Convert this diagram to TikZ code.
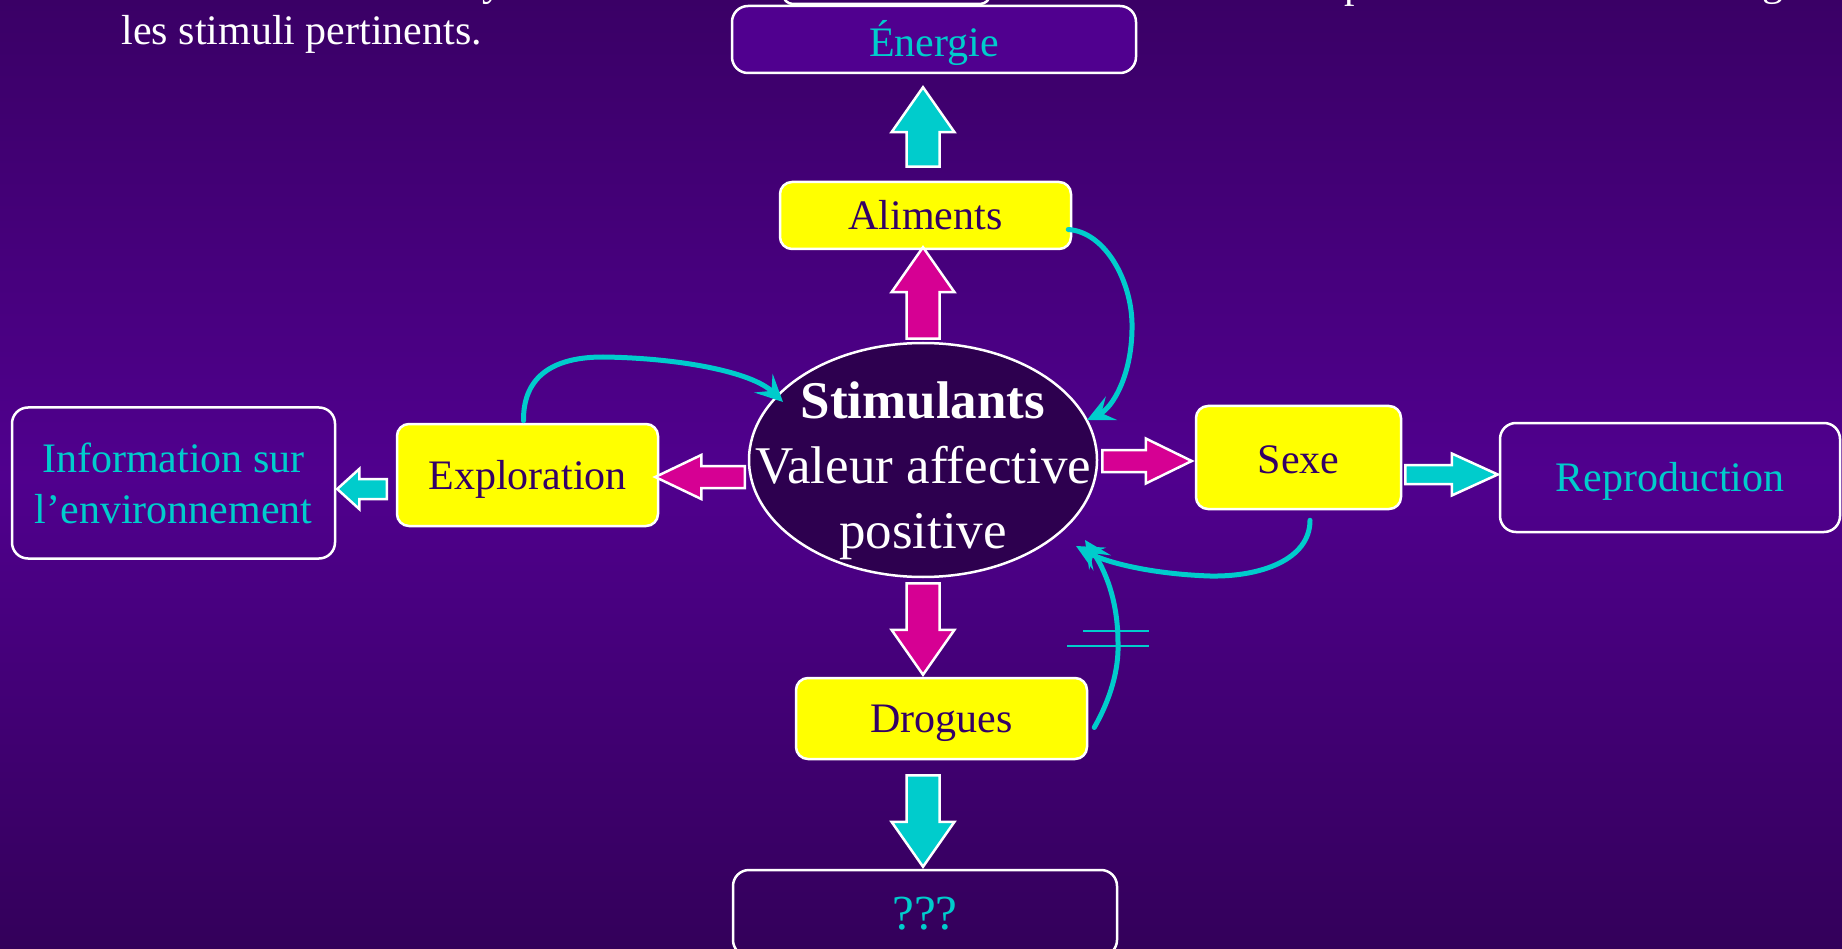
\documentclass[tikz,border=0pt]{standalone}
\usepackage{fontspec}
\setmainfont{Liberation Serif}
\usetikzlibrary{calc,shapes.geometric,arrows.meta}
\definecolor{bgtop}{HTML}{3A0066}
\definecolor{bgmid}{HTML}{50008E}
\definecolor{bgbot}{HTML}{33005A}
\definecolor{boxfill}{HTML}{50008F}
\definecolor{ellfill}{HTML}{2D004F}
\definecolor{cyanc}{HTML}{00CCCC}
\definecolor{magc}{HTML}{D60093}
\definecolor{yel}{HTML}{FFFF00}
\definecolor{darktxt}{HTML}{330066}
\tikzset{
  ybox/.style={draw=white, line width=2.5pt, fill=yel, rounded corners=12pt, text=darktxt,
    font=\fontsize{42}{50}\selectfont, inner sep=0pt, text height=28pt, text depth=0pt},
  obox/.style={draw=white, line width=2.5pt, rounded corners=16pt, text=cyanc,
    font=\fontsize{42}{51}\selectfont, inner sep=0pt, align=center},
  oboxone/.style={obox, text height=28pt, text depth=0pt},
  blockarr/.style={draw=white, line width=2.5pt, line join=miter},
  fbcurve/.style={draw=cyanc, line width=5pt, line cap=round,
    -{Stealth[length=27pt,width=26pt,inset=11pt]}},
  crossline/.style={draw=cyanc, line width=2pt},
  topfrag/.style={anchor=base, text=white, font=\fontsize{42}{50}\selectfont, inner sep=0pt},
}
\newcommand\blockarrow[6]{%
  \path[blockarr, fill=#1] let \p1=(#2), \p2=(#3), \n1={atan2(\y2-\y1,\x2-\x1)} in
  ($(\p1)+(\n1+90:#4pt)$) -- ($(\p2)+(\n1+180:#6pt)+(\n1+90:#4pt)$)
  -- ($(\p2)+(\n1+180:#6pt)+(\n1+90:#5pt)$) -- (\p2)
  -- ($(\p2)+(\n1+180:#6pt)+(\n1-90:#5pt)$) -- ($(\p2)+(\n1+180:#6pt)+(\n1-90:#4pt)$)
  -- ($(\p1)+(\n1-90:#4pt)$) -- cycle;}
\begin{document}
\begin{tikzpicture}[x=1pt,y=-1pt]
\useasboundingbox (0,0) rectangle (1842,949);
\shade[top color=bgtop, bottom color=bgmid] (0,0) rectangle (1842,476);
\shade[top color=bgmid, bottom color=bgbot] (0,475) rectangle (1842,949);

% fragments of the line and box cut off at the top edge
\node[topfrag] (fy) at (493,-4) {y};
\node[topfrag] (fp) at (1355,-2) {p};
\node[topfrag] (fg) at (1773,-4) {g};
\draw[white, line width=2.5pt, rounded corners=10pt] (783,-60) rectangle (990,4);

\node[anchor=base west, text=white, font=\fontsize{42}{50}\selectfont] (note) at (118,45) {les stimuli pertinents.};

\node[oboxone, fill=boxfill, minimum width=404pt, minimum height=67pt, text height=34pt] (ene) at (934,39.5) {Énergie};
\node[ybox, minimum width=291pt, minimum height=67pt] (ali) at (925.5,215.5) {Aliments};
\node[ellipse, draw=white, line width=2.5pt, fill=ellfill, minimum width=348pt, minimum height=234pt,
  inner sep=0pt] (ell) at (923,460) {};
\node[text=white, align=center, font=\fontsize{53}{65}\selectfont, inner sep=0pt] (ellt) at (923,471)
  {\textbf{Stimulants}\\Valeur affective\\positive};
\node[ybox, minimum width=261pt, minimum height=102pt] (exp) at (527.5,475) {Exploration};
\node[obox, minimum width=323pt, minimum height=151pt] (info) at (173.5,483) {Information sur\\l’environnement};
\node[ybox, minimum width=205pt, minimum height=103pt, text height=31pt] (sexe) at (1298.5,457.5) {Sexe};
\node[oboxone, minimum width=340pt, minimum height=109pt] (rep) at (1670,477.5) {Reproduction};
\node[ybox, minimum width=291pt, minimum height=81pt] (drog) at (941.5,718.5) {Drogues};
\node[oboxone, minimum width=384pt, minimum height=86pt, font=\fontsize{49}{55}\selectfont, text height=33pt] (qqq) at (925,913) {???};

\blockarrow{cyanc}{$(ell.north |- ali.north)+(0,-14)$}{$(ell.north |- ene.south)+(0,13)$}{16.5}{31.5}{45}
\blockarrow{magc}{$(ell.north)+(0,-3)$}{$(ell.north |- ali.south)+(0,-3)$}{16.5}{31.5}{45}
\blockarrow{magc}{$(ell.south)+(0,5)$}{$(ell.south |- drog.north)+(0,-2)$}{16.5}{31.5}{45}
\blockarrow{cyanc}{$(ell.south |- drog.south)+(0,15)$}{$(ell.south |- qqq.north)+(0,-2)$}{16.5}{31.5}{45}
\blockarrow{magc}{$(ell.west |- exp.east)+(-3,2)$}{$(exp.east)+(-4,2)$}{11}{22}{46}
\blockarrow{cyanc}{$(exp.west)+(-9,14)$}{$(info.east)+(1,6)$}{10}{20}{22}
\blockarrow{magc}{$(ell.east)+(4,1)$}{$(sexe.west |- ell.east)+(-3,1)$}{11}{22.5}{46}
\blockarrow{cyanc}{$(sexe.east)+(3,17)$}{$(rep.west)+(-1,-3)$}{9.5}{21}{46}

\draw[fbcurve] ($(exp.north)+(-4,-2)$) .. controls (523,375) and (555,357) .. (603,357)
  .. controls (680,358) and (752,372) .. ($(ell.center)+(-140,-58)$);
\draw[fbcurve] ($(ali.east)+(-4,14)$) .. controls (1105,232) and (1131,280) .. (1132,323)
  .. controls (1133,375) and (1112,408) .. ($(ell.center)+(164,-40)$);
\draw[fbcurve] ($(sexe.south)+(11.5,10)$) .. controls (1310,560) and (1260,577) .. (1210,576)
  .. controls (1150,574) and (1105,562) .. ($(ell.center)+(153,86)$);
\draw[fbcurve] ($(drog.east)+(6,9)$) .. controls (1110,700) and (1119,670) .. (1118,643)
  .. controls (1118,600) and (1105,570) .. ($(ell.center)+(162,80)$);
\draw[crossline] (1083,631) -- (1149,631);
\draw[crossline] (1067,646) -- (1149,646);
\end{tikzpicture}
\end{document}
